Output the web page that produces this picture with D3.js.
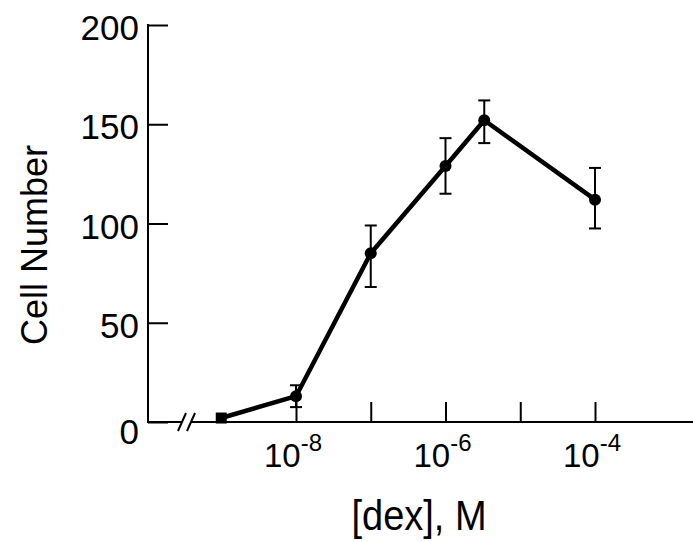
<!DOCTYPE html>
<html>
<head>
<meta charset="utf-8">
<script src="https://cdn.jsdelivr.net/npm/d3@7"></script>
<style>
  html, body { margin: 0; padding: 0; background: #fff; }
  svg { display: block; }
  text { font-family: "Liberation Sans", Arial, sans-serif; fill: #000; }
</style>
</head>
<body>
<svg id="chart" width="693" height="542"></svg>
<script>
// ---- data ----
const controlConc = 1e-9;          // control (no dex), drawn left of the break
const controlCells = 2;
const conc   = [1e-8, 1e-7, 1e-6, 3.3e-6, 1e-4];
const cells  = [13, 85, 129, 152, 112];
const errLow = [7.5, 68, 115, 140.5, 97.5];
const errHigh= [18.5, 99, 143, 162, 128];
const xTickValues = [1e-8, 1e-7, 1e-6, 1e-5, 1e-4];
const xTickExponents = [-8, -6, -4];
const yTickValues = [0, 50, 100, 150, 200];
const yTitle = "Cell Number";
const xTitle = "[dex], M";

// ---- layout ----
const svg = d3.select("#chart");
const axisX = 148, baseY = 422, topY = 25;
const x = d3.scaleLog().domain([1e-8, 1e-4]).range([296, 595]);
const y = d3.scaleLinear().domain([0, 200]).range([baseY, topY]);

// y axis
const yAxis = d3.axisLeft(y).tickValues(yTickValues).tickSizeInner(-20).tickSizeOuter(0)
  .tickPadding(9).tickFormat(d3.format("d"));
const gy = svg.append("g").attr("transform", `translate(${axisX},0)`).call(yAxis);
gy.select(".domain").remove();
gy.selectAll(".tick line").attr("stroke", "#000").attr("stroke-width", 2);
gy.selectAll(".tick text").attr("font-size", 35)
  .attr("dy", d => d === 0 ? "0.62em" : "0.42em");
svg.append("line").attr("x1", axisX).attr("x2", axisX).attr("y1", topY - 1).attr("y2", baseY + 1)
  .attr("stroke", "#000").attr("stroke-width", 2);

// x axis with break
const breakA = 182, breakB = 191;
svg.append("line").attr("x1", axisX).attr("x2", breakA).attr("y1", baseY).attr("y2", baseY)
  .attr("stroke", "#000").attr("stroke-width", 2);
svg.append("line").attr("x1", breakB).attr("x2", 693).attr("y1", baseY).attr("y2", baseY)
  .attr("stroke", "#000").attr("stroke-width", 2);
[breakA, breakB].forEach(bx => {
  svg.append("line").attr("x1", bx - 4).attr("y1", baseY + 9).attr("x2", bx + 4).attr("y2", baseY - 9)
    .attr("stroke", "#000").attr("stroke-width", 2);
});
const xAxis = d3.axisBottom(x).tickValues(xTickValues).tickSizeInner(-20).tickSizeOuter(0).tickFormat("");
const gx = svg.append("g").attr("transform", `translate(0,${baseY})`).call(xAxis);
gx.select(".domain").remove();
gx.selectAll(".tick line").attr("stroke", "#000").attr("stroke-width", 2);

const labels = svg.append("g").selectAll("text").data(xTickExponents).join("text")
  .attr("x", d => x(Math.pow(10, d)) - 3).attr("y", 467).attr("text-anchor", "middle");
labels.append("tspan").attr("font-size", 33).text("10");
labels.append("tspan").attr("font-size", 24).attr("dy", -16).text(d => "-" + Math.abs(d));

// titles
svg.append("text").attr("transform", "translate(47,245) rotate(-90)").attr("text-anchor", "middle")
  .attr("font-size", 37).attr("textLength", 200).attr("lengthAdjust", "spacingAndGlyphs").text(yTitle);
svg.append("text").attr("x", 419).attr("y", 530).attr("text-anchor", "middle")
  .attr("font-size", 43).attr("textLength", 135).attr("lengthAdjust", "spacingAndGlyphs").text(xTitle);

// data line
const pts = [[controlConc, controlCells]].concat(conc.map((c, i) => [c, cells[i]]));
svg.append("path").datum(pts)
  .attr("d", d3.line().x(d => x(d[0])).y(d => y(d[1])))
  .attr("fill", "none").attr("stroke", "#000").attr("stroke-width", 4.5).attr("stroke-linejoin", "round");

// error bars
const eb = svg.append("g").attr("stroke", "#000").attr("stroke-width", 2);
conc.forEach((c, i) => {
  const cx = x(c);
  eb.append("line").attr("x1", cx).attr("x2", cx).attr("y1", y(errLow[i])).attr("y2", y(errHigh[i]));
  eb.append("line").attr("x1", cx - 6).attr("x2", cx + 6).attr("y1", y(errLow[i])).attr("y2", y(errLow[i]));
  eb.append("line").attr("x1", cx - 6).attr("x2", cx + 6).attr("y1", y(errHigh[i])).attr("y2", y(errHigh[i]));
});

// markers
svg.append("g").selectAll("circle").data(conc).join("circle")
  .attr("cx", d => x(d)).attr("cy", (d, i) => y(cells[i])).attr("r", 6).attr("fill", "#000");
svg.append("rect").attr("x", x(controlConc) - 5.5).attr("y", y(controlCells) - 5.5)
  .attr("width", 11).attr("height", 11).attr("fill", "#000");
</script>
</body>
</html>
